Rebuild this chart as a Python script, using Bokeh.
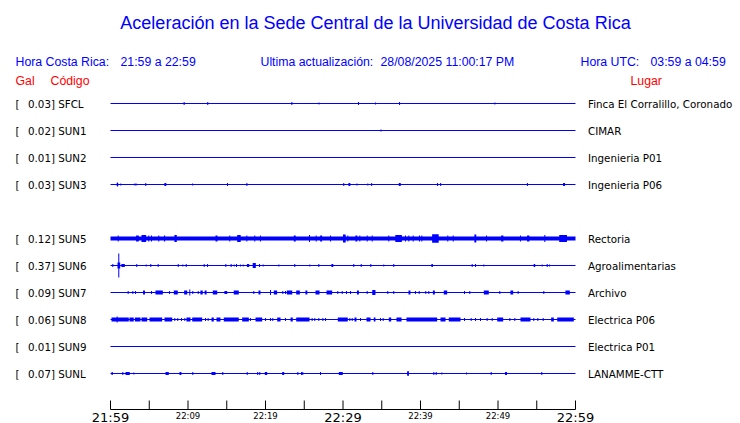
from bokeh.plotting import figure
from bokeh.models import Range1d
from bokeh.core.properties import value
from bokeh.embed import file_html
from bokeh.resources import INLINE

# ---------------- data ----------------
TITLE = "Aceleración en la Sede Central de la Universidad de Costa Rica"
HDR_CR = ["Hora Costa Rica:", "21:59 a 22:59"]
HDR_UPD = ["Ultima actualización:", "28/08/2025 11:00:17 PM"]
HDR_UTC = ["Hora UTC:", "03:59 a 04:59"]
COL_HEADS = ["Gal", "Código", "Lugar"]

CODES = ["SFCL", "SUN1", "SUN2", "SUN3", "SUN5", "SUN6", "SUN7", "SUN8", "SUN9", "SUNL"]
PEAK_GAL = ["0.03", "0.02", "0.01", "0.03", "0.12", "0.37", "0.09", "0.06", "0.01", "0.07"]
PLACES = ["Finca El Corralillo, Coronado", "CIMAR", "Ingenieria P01", "Ingenieria P06",
          "Rectoria", "Agroalimentarias", "Archivo", "Electrica P06", "Electrica P01", "LANAMME-CTT"]
ROWS = [0, 1, 2, 3, 5, 6, 7, 8, 9, 10]

# trace events: (start minute, end minute, half amplitude), minutes after 21:59
SFCL_EV = [(9.5, 9.5, 1.5), (12.55, 12.55, 1.5), (23.4, 23.4, 1.5), (26.9, 26.9, 1), (32.0, 32.0, 1.5),
           (34.2, 34.2, 1), (37.3, 37.3, 1.5), (49.6, 49.6, 1)]
SUN1_EV = [(34.9, 34.9, 1)]
SUN2_EV = []
SUN3_EV = [(0.8, 1.0, 1.5), (0.9, 0.9, 2), (1.33, 1.33, 1), (3.14, 3.14, 1), (3.3, 3.3, 1), (4.55, 4.55, 1.5),
           (6.95, 7.2, 1.5), (10.6, 10.6, 1), (15.1, 15.1, 1.5), (17.6, 17.6, 1.5), (30.1, 30.1, 1.5),
           (30.7, 30.95, 1.5), (31.8, 31.8, 1), (33.2, 33.2, 1), (33.7, 33.7, 1.5), (37.2, 37.45, 1.5),
           (42.2, 42.2, 1.5), (42.6, 42.6, 1.5), (53.8, 53.8, 1.5), (58.4, 58.65, 1.5)]
SUN5_EV = [(0.99, 0.99, 3), (3.3, 3.65, 3), (4.0, 4.6, 3.5), (4.94, 4.94, 3), (5.29, 5.29, 3), (6.23, 6.23, 3),
           (6.9, 7.05, 3), (8.25, 8.55, 3.5), (13.55, 13.8, 3), (15.39, 15.39, 3), (16.35, 16.8, 3.5),
           (17.59, 17.59, 3), (18.62, 18.62, 3), (19.35, 19.35, 3), (23.65, 23.9, 3), (25.68, 25.68, 3.5),
           (26.54, 26.54, 3), (27.05, 27.3, 3), (28.39, 28.39, 3), (30.0, 30.35, 4), (30.62, 30.62, 3),
           (31.6, 31.85, 3), (32.17, 32.17, 3), (33.12, 33.12, 3), (33.77, 33.77, 3), (35.91, 35.91, 3),
           (36.75, 37.6, 3.5), (38.06, 38.06, 3), (38.49, 38.49, 3), (39.06, 39.06, 3), (39.87, 39.87, 3),
           (40.17, 40.17, 3), (41.5, 42.35, 4.3), (43.52, 43.52, 3), (44.22, 44.22, 3), (46.95, 47.2, 4),
           (48.52, 48.52, 3), (50.4, 50.7, 3), (52.9, 52.9, 3), (53.75, 54.05, 3), (56.04, 56.04, 3.5),
           (57.9, 58.9, 3.5)]
SUN6_EV = [(0.3, 0.3, 1.5), (1.07, 1.07, 12), (0.9, 1.25, 3), (1.4, 1.85, 1.5), (3.39, 3.39, 1.5),
           (4.61, 4.61, 1), (5.2, 5.2, 1.5), (6.15, 6.15, 1.5), (8.74, 8.74, 1.5), (9.33, 9.33, 1),
           (9.77, 9.77, 1.5), (12.09, 12.09, 1.5), (12.52, 12.52, 1.5), (14.88, 14.88, 1.5), (15.57, 15.57, 1.5),
           (15.96, 15.96, 1), (16.26, 16.26, 1.5), (16.77, 16.77, 1), (17.12, 17.12, 1), (17.6, 17.9, 1.5),
           (18.35, 18.75, 2.5), (19.23, 19.23, 1.5), (19.7, 19.7, 1), (21.72, 21.72, 1), (23.78, 23.78, 1.5),
           (25.72, 25.72, 1), (26.88, 26.88, 1.5), (28.5, 28.75, 1.5), (31.39, 31.39, 1.5), (32.35, 32.35, 1.5),
           (33.59, 33.59, 1.5), (35.26, 35.26, 1), (36.55, 36.55, 1.5), (41.4, 41.6, 1.5), (46.67, 46.67, 1.5),
           (47.1, 47.1, 1.5), (48.17, 48.17, 1), (54.6, 54.8, 1.5), (55.7, 55.7, 1), (56.35, 56.35, 1.5),
           (56.65, 56.65, 1)]
SUN7_EV = [(2.28, 2.28, 1.5), (2.88, 2.88, 1.5), (3.23, 3.23, 1.5), (4.2, 4.45, 2), (5.29, 5.29, 1.5),
           (5.8, 6.75, 2), (7.61, 7.61, 1.5), (8.17, 8.68, 2), (9.5, 9.9, 2), (10.23, 10.23, 3),
           (10.62, 10.62, 1.5), (11.32, 11.32, 1.5), (11.6, 11.9, 2), (12.15, 12.4, 2), (13.2, 13.77, 2),
           (14.7, 15.06, 1.5), (15.9, 16.55, 2), (18.49, 18.49, 1.5), (19.1, 19.35, 2), (20.65, 20.65, 2.5),
           (21.07, 21.5, 2), (22.23, 22.23, 1.5), (22.58, 22.58, 1.5), (22.75, 23.45, 2), (23.96, 24.43, 2),
           (25.15, 25.4, 2), (26.45, 26.97, 2), (27.87, 28.6, 2), (29.33, 29.33, 1.5), (29.9, 29.9, 1.5),
           (30.45, 30.45, 1.5), (30.97, 30.97, 1.5), (31.8, 32.05, 2), (33.12, 33.12, 1.5), (33.77, 34.19, 2.5),
           (35.78, 35.78, 1.5), (36.55, 36.55, 1.5), (38.45, 38.7, 2), (39.35, 39.35, 1.5), (39.83, 39.83, 1.5),
           (40.68, 40.68, 1.5), (41.07, 41.07, 1.5), (41.6, 41.85, 2), (43.0, 43.44, 2), (45.68, 45.68, 1.5),
           (46.36, 46.36, 1.5), (48.17, 48.81, 2), (50.23, 50.23, 1.5), (51.6, 51.96, 2), (52.6, 52.6, 1.5),
           (55.91, 55.91, 1.5), (58.7, 59.27, 2)]
SUN8_EV = [(0.13, 2.36, 2), (0.86, 0.86, 3), (2.45, 3.0, 2), (3.14, 3.87, 2), (4.0, 4.74, 2), (5.03, 6.67, 2),
           (6.97, 7.96, 2), (8.3, 8.3, 1.5), (8.68, 8.68, 1.5), (9.16, 9.16, 1.5), (9.59, 9.59, 1.5),
           (9.8, 10.32, 2), (10.54, 11.83, 2), (12.26, 12.26, 1.5), (12.6, 12.6, 1.5), (13.03, 13.33, 2),
           (13.68, 14.19, 2), (14.62, 16.55, 2), (16.99, 17.85, 2), (18.06, 18.06, 1.5), (18.71, 19.57, 2),
           (20.0, 20.0, 1.5), (20.65, 20.65, 1.5), (20.94, 20.94, 1.5), (21.51, 21.94, 2), (22.58, 22.58, 1.5),
           (23.23, 23.52, 2), (23.96, 25.68, 2), (26.02, 26.02, 1.5), (26.36, 26.36, 1.5), (26.88, 26.88, 1.5),
           (27.4, 27.4, 1.5), (27.74, 27.74, 1.5), (29.33, 30.62, 2), (30.88, 30.88, 1.5), (31.19, 31.19, 1.5),
           (31.48, 31.74, 2), (32.26, 32.26, 1.5), (33.03, 33.55, 2), (33.97, 34.19, 2), (34.84, 34.84, 1.5),
           (35.18, 35.18, 1.5), (35.91, 36.22, 2), (36.9, 37.55, 2), (38.19, 42.15, 2), (42.58, 43.23, 2),
           (43.65, 45.16, 2), (45.68, 45.68, 1.5), (46.54, 46.54, 1.5), (47.1, 47.1, 1.5), (47.74, 47.74, 1.5),
           (48.6, 48.6, 1.5), (49.25, 49.25, 1.5), (49.9, 50.67, 2), (51.53, 51.53, 1.5), (52.17, 52.17, 1.5),
           (52.9, 54.19, 2), (54.62, 54.62, 1.5), (55.14, 55.14, 1.5), (55.83, 55.83, 1.5), (56.86, 57.2, 2),
           (57.64, 59.78, 2)]
SUN9_EV = []
SUNL_EV = [(0.13, 0.3, 1.5), (1.59, 1.59, 1.5), (1.94, 2.49, 1.5), (3.01, 3.01, 1), (7.1, 7.52, 1.5),
           (8.9, 9.15, 1.5), (10.62, 10.62, 1.5), (13.03, 13.55, 1.5), (14.49, 14.49, 1.5), (17.64, 17.64, 1.5),
           (18.99, 18.99, 1.5), (19.26, 19.26, 1.5), (19.91, 20.22, 1.5), (22.15, 22.41, 1.5), (24.17, 24.17, 1.5),
           (24.65, 24.65, 1.5), (24.81, 24.81, 1.5), (27.1, 27.1, 1.5), (29.46, 29.97, 1.5), (33.85, 33.85, 1.5),
           (38.28, 38.49, 2), (38.4, 38.4, 2.5), (41.72, 41.72, 1.5), (42.03, 42.03, 1.5), (42.75, 42.75, 1),
           (45.94, 45.94, 1), (49.12, 49.12, 1.5), (50.97, 50.97, 1.5), (51.1, 51.1, 1.5), (55.65, 55.65, 1.5)]
EVENTS = [SFCL_EV, SUN1_EV, SUN2_EV, SUN3_EV, SUN5_EV, SUN6_EV, SUN7_EV, SUN8_EV, SUN9_EV, SUNL_EV]

T_START, T_END = 0, 60
TICK_MIN = [0, 5, 10, 15, 20, 25, 30, 35, 40, 45, 50, 55, 60]
MAJOR_MIN = [0, 30, 60]
MAJOR_LABELS = ["21:59", "22:29", "22:59"]
MINOR_MIN = [10, 20, 40, 50]
MINOR_LABELS = ["22:09", "22:19", "22:39", "22:49"]

# ---------------- layout / style ----------------
W, H = 740, 423
ORIGIN = 0.0        # where the figure's top-left lands in the picture
BLUE = "#0000ff"
RED = "#ff0000"
PX_PER_MIN = 7.75
ROW_PX = 27.0
X_ZERO_PX = 110.0   # picture px of minute 0
Y_ZERO_PX = 103.0   # picture px of row 0
TRACE_W = {"SUN5": 4}


def xd(px):
    return (px - X_ZERO_PX) / PX_PER_MIN


def yd(py):
    return (py - Y_ZERO_PX) / ROW_PX


p = figure(width=W, height=H, output_backend="svg", toolbar_location=None,
           x_axis_location=None, y_axis_location=None, min_border=0,
           x_range=Range1d(xd(ORIGIN), xd(ORIGIN + W)),
           y_range=Range1d(yd(ORIGIN + H), yd(ORIGIN)))
p.outline_line_color = None
p.grid.visible = False
p.background_fill_color = "white"

# baselines
for code, row in zip(CODES, ROWS):
    p.segment(x0=T_START, x1=T_END, y0=row, y1=row, line_color=BLUE,
              line_width=TRACE_W.get(code, 1))

# events: single spikes as segments, bursts as filled blocks
sx, sy0, sy1 = [], [], []
bl, br, bt, bb = [], [], [], []
for row, ev in zip(ROWS, EVENTS):
    for t0, t1, a in ev:
        if t1 > t0:
            bl.append(t0)
            br.append(t1)
            bt.append(row - a / ROW_PX)
            bb.append(row + a / ROW_PX)
        else:
            sx.append(t0)
            sy0.append(row - a / ROW_PX)
            sy1.append(row + a / ROW_PX)
p.quad(left=bl, right=br, top=bt, bottom=bb, fill_color=BLUE, line_color=None)
p.segment(x0=sx, x1=sx, y0=sy0, y1=sy1, line_color=BLUE, line_width=1)

LBL_FONT = value("DejaVu Sans")
HDR_FONT = value("Liberation Sans")

# left labels
p.text(x=[xd(15)] * len(ROWS), y=ROWS, text=["["] * len(ROWS), text_font=LBL_FONT,
       text_font_size="10.3px", text_baseline="middle", text_color="black")
p.text(x=[xd(27.5)] * len(ROWS), y=ROWS, text=[f"{g}] {c}" for g, c in zip(PEAK_GAL, CODES)],
       text_font=LBL_FONT, text_font_size="10.3px", text_baseline="middle", text_color="black")
# right labels
p.text(x=[xd(587.5)] * len(ROWS), y=ROWS, text=PLACES, text_font=LBL_FONT,
       text_font_size="10.3px", text_baseline="middle", text_color="black")

# title
p.text(x=[xd(375)], y=[yd(22)], text=[TITLE], text_font=HDR_FONT, text_font_size="18px",
       text_align="center", text_baseline="middle", text_color=BLUE)
# header line
p.text(x=[xd(15), xd(120), xd(260), xd(380), xd(580), xd(650)], y=[yd(61)] * 6,
       text=HDR_CR + HDR_UPD + HDR_UTC, text_font=HDR_FONT, text_font_size="12.3px",
       text_baseline="middle", text_color=BLUE)
p.text(x=[xd(15), xd(50), xd(630)], y=[yd(80.5)] * 3, text=COL_HEADS, text_font=HDR_FONT,
       text_font_size="12.3px", text_baseline="middle", text_color=RED)

# time axis
AX_Y = 409
p.segment(x0=T_START, x1=T_END, y0=yd(AX_Y), y1=yd(AX_Y), line_color="black", line_width=1)
p.segment(x0=TICK_MIN, x1=TICK_MIN, y0=[yd(AX_Y - 9)] * len(TICK_MIN), y1=[yd(AX_Y)] * len(TICK_MIN),
          line_color="black", line_width=1)
p.text(x=MAJOR_MIN, y=[yd(AX_Y + 7.5)] * 3, text=MAJOR_LABELS, text_font=LBL_FONT,
       text_font_size="13px", text_align="center", text_baseline="middle", text_color="black")
p.text(x=MINOR_MIN, y=[yd(AX_Y + 6.5)] * 4, text=MINOR_LABELS, text_font=LBL_FONT,
       text_font_size="8.5px", text_align="center", text_baseline="middle", text_color="black")

open("out.html", "w").write(file_html(p, INLINE))
